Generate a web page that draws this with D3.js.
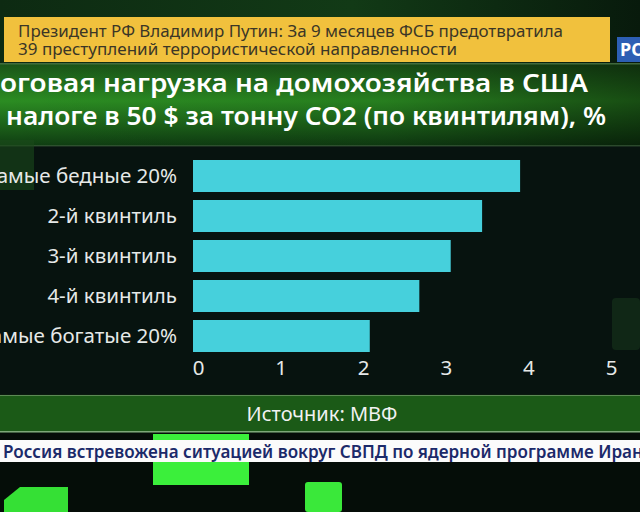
<!DOCTYPE html>
<html><head><meta charset="utf-8">
<script src="https://cdn.jsdelivr.net/npm/d3@7"></script>
<style>html,body{margin:0;padding:0;background:#07120e;overflow:hidden}svg{display:block}</style>
</head><body><svg id="c" width="640" height="512"></svg>
<script>
const categories = ["Самые бедные 20%", "2-й квинтиль", "3-й квинтиль", "4-й квинтиль", "Самые богатые 20%"];
const values = [3.96, 3.5, 3.12, 2.74, 2.14];
const tickValues = [0, 1, 2, 3, 4, 5];
const titleLines = ["Налоговая нагрузка на домохозяйства в США", "при налоге в 50 $ за тонну CO2 (по квинтилям), %"];
const sourceText = "Источник: МВФ";
const bannerLines = ["Президент РФ Владимир Путин: За 9 месяцев ФСБ предотвратила", "39 преступлений террористической направленности"];
const tickerText = "Россия встревожена ситуацией вокруг СВПД по ядерной программе Иран";
const logoText = "РОССИЯ 24";

const svg = d3.select("#c");
const font = "'Noto Sans', 'Open Sans', sans-serif";
const defs = svg.append("defs");

// fit a text so that chars [cut, n-tail) span from x0 to x1
function fit(t, cut, tail, x0, x1) {
  const node = t.node();
  const n = node.getNumberOfChars();
  const F = node.getComputedTextLength();
  const P = cut > 0 ? node.getSubStringLength(0, cut) : 0;
  const T = tail > 0 ? node.getSubStringLength(n - tail, tail) : 0;
  const s = (x1 - x0) / (F - P - T);
  t.attr("x", x0 - P * s).attr("textLength", F * s).attr("lengthAdjust", "spacingAndGlyphs");
}

const gTitle = defs.append("linearGradient").attr("id","gt").attr("x1",0).attr("y1",0).attr("x2",0).attr("y2",1);
gTitle.append("stop").attr("offset","0%").attr("stop-color","#1a5418");
gTitle.append("stop").attr("offset","45%").attr("stop-color","#2b8c22");
gTitle.append("stop").attr("offset","100%").attr("stop-color","#0f3d12");
const gTitleH = defs.append("linearGradient").attr("id","gth").attr("x1",0).attr("y1",0).attr("x2",1).attr("y2",0);
gTitleH.append("stop").attr("offset","0%").attr("stop-color","#000").attr("stop-opacity",0);
gTitleH.append("stop").attr("offset","60%").attr("stop-color","#000").attr("stop-opacity",0.1);
gTitleH.append("stop").attr("offset","100%").attr("stop-color","#000").attr("stop-opacity",0.45);
const gTop = defs.append("linearGradient").attr("id","gtop").attr("x1",0).attr("y1",0).attr("x2",1).attr("y2",0);
gTop.append("stop").attr("offset","0%").attr("stop-color","#0d2a12");
gTop.append("stop").attr("offset","55%").attr("stop-color","#123a16");
gTop.append("stop").attr("offset","100%").attr("stop-color","#081a0c");

// backgrounds
svg.append("rect").attr("x",0).attr("y",0).attr("width",640).attr("height",64).attr("fill","url(#gtop)");
svg.append("rect").attr("x",0).attr("y",64).attr("width",640).attr("height",82).attr("fill","url(#gt)");
svg.append("rect").attr("x",0).attr("y",64).attr("width",640).attr("height",82).attr("fill","url(#gth)");
svg.append("rect").attr("x",0).attr("y",63).attr("width",640).attr("height",1.5).attr("fill","#4f7a4a").attr("opacity",0.8);
svg.append("rect").attr("x",0).attr("y",146).attr("width",640).attr("height",248).attr("fill","#07130f");
svg.append("rect").attr("x",0).attr("y",145).attr("width",640).attr("height",1.5).attr("fill","#3b5a3a").attr("opacity",0.7);
// faint squares in chart area
svg.append("rect").attr("x",0).attr("y",140).attr("width",34).attr("height",50).attr("fill","#1a4a1a").attr("opacity",0.6);
svg.append("rect").attr("x",612).attr("y",298).attr("width",28).attr("height",52).attr("rx",4).attr("fill","#14301a").attr("opacity",0.7);

// yellow banner
svg.append("rect").attr("x",4).attr("y",17).attr("width",606).attr("height",45).attr("fill","#f1c13d");
const bannerSpans = [[18,563],[18,457]];
svg.selectAll("text.banner").data(bannerLines).join("text").attr("class","banner")
  .attr("x",18).attr("y",(d,i)=>37+i*18).attr("fill","#3b3626")
  .attr("font-family",font).attr("font-size",17)
  .text(d=>d)
  .each(function(d,i){ fit(d3.select(this),0,0,bannerSpans[i][0],bannerSpans[i][1]); });
// logo
svg.append("rect").attr("x",617).attr("y",37).attr("width",30).attr("height",25).attr("fill","#2d5fb4");
svg.append("text").attr("x",620).attr("y",56).attr("fill","#fff").attr("font-family",font).attr("font-weight",700)
  .attr("font-size",18).text(logoText);

// title
const titleFits = [[3,0,0,588],[4,0,6,606]];
svg.selectAll("text.title").data(titleLines).join("text").attr("class","title")
  .attr("x",0).attr("y",(d,i)=>92+i*32.5)
  .attr("fill","#fff").attr("font-family",font).attr("font-weight",600).attr("font-size",25.5)
  .text(d=>d)
  .each(function(d,i){ const f=titleFits[i]; fit(d3.select(this),f[0],f[1],f[2],f[3]); });

// chart
const x = d3.scaleLinear().domain([0,5]).range([193,606]);
const y = d3.scaleBand().domain(categories).range([156,356]).paddingInner(0.2).paddingOuter(0.1);

svg.append("g").selectAll("rect").data(values).join("rect")
  .attr("x",x(0)).attr("y",(d,i)=>y(categories[i]))
  .attr("width",d=>x(d)-x(0)).attr("height",y.bandwidth()).attr("fill","#46d0dc");

const yAxis = svg.append("g").attr("transform",`translate(${x(0)-16},0)`)
  .call(d3.axisLeft(y).tickSize(0).tickPadding(0));
yAxis.select(".domain").remove();
yAxis.selectAll("text").attr("fill","#e6e9e8").attr("font-family",font).attr("font-size",20.5).attr("dy","0.36em");

const xAxis = svg.append("g").attr("transform","translate(5,359)")
  .call(d3.axisBottom(x).tickValues(tickValues).tickFormat(d3.format("d")).tickSize(0).tickPadding(0));
xAxis.select(".domain").remove();
xAxis.selectAll("text").attr("fill","#e6e9e8").attr("font-family",font).attr("font-size",20.5).attr("dy","0.8em");

// source band
svg.append("rect").attr("x",0).attr("y",394).attr("width",640).attr("height",39).attr("fill","#0a1a0e");
svg.append("rect").attr("x",0).attr("y",396).attr("width",640).attr("height",35).attr("fill","#1b5a17");
svg.append("rect").attr("x",0).attr("y",395).attr("width",640).attr("height",1).attr("fill","#5c8a55");
svg.append("rect").attr("x",0).attr("y",431).attr("width",640).attr("height",1.5).attr("fill","#7da878");
svg.append("text").attr("x",322).attr("y",421).attr("text-anchor","middle")
  .attr("fill","#f2f2f2").attr("font-family",font).attr("font-size",20).text(sourceText);

// lower area
svg.append("rect").attr("x",0).attr("y",433).attr("width",640).attr("height",79).attr("fill","#050d08");
svg.append("rect").attr("x",153).attr("y",434).attr("width",96).attr("height",51).attr("fill","#3bef3b");
svg.append("path").attr("d","M20,487 L68,487 L68,512 L4,512 L4,500 Z").attr("fill","#35e035");
svg.append("rect").attr("x",305).attr("y",482).attr("width",37).attr("height",30).attr("rx",3).attr("fill","#3ae83a");
// ticker
svg.append("rect").attr("x",0).attr("y",440).attr("width",640).attr("height",22).attr("fill","#fbfbfb");
const tk = svg.append("text").attr("x",2).attr("y",458).attr("fill","#1c2a6a")
  .attr("font-family",font).attr("font-weight",600).attr("font-size",18.5).text(tickerText);
fit(tk,0,1,3,632);
</script></body></html>
